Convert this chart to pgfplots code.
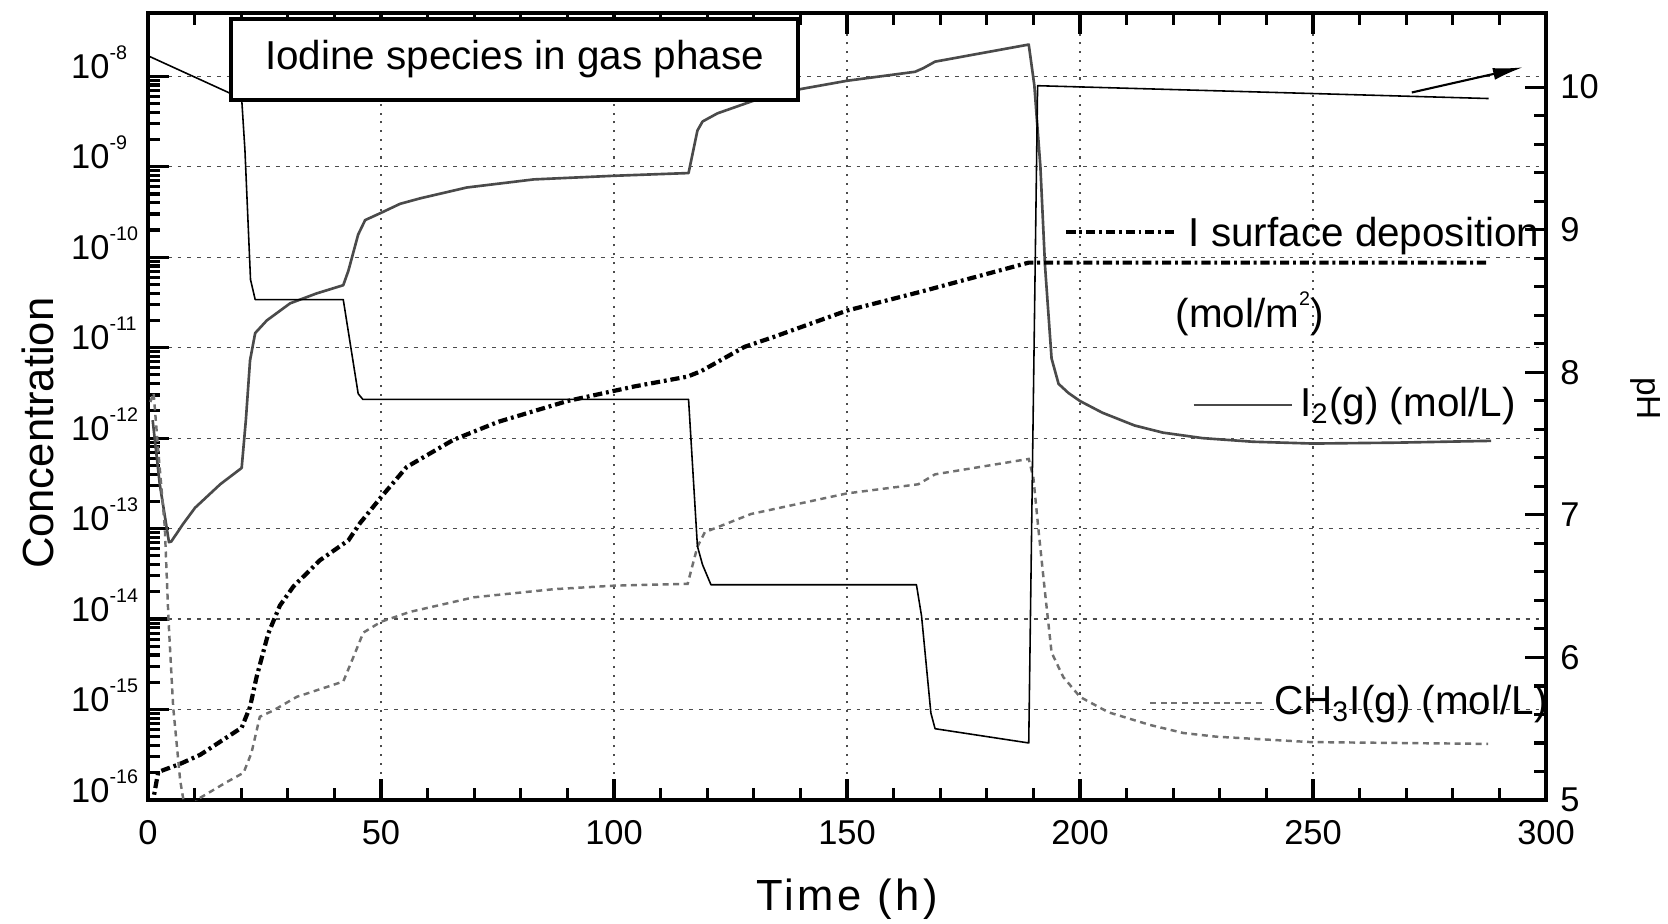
\documentclass[border=0pt]{standalone}
\usepackage{pgfplots}
\pgfplotsset{compat=1.18}
\usepackage{fontspec}
\setmainfont{Liberation Sans}
\newfontfamily\widefont[LetterSpace=8]{Liberation Sans}
\usetikzlibrary{arrows.meta}
\definecolor{igray}{HTML}{4A4A4A}
\definecolor{cgray}{HTML}{707070}
\newcommand\supx[1]{\raisebox{0.55em}{\fontsize{5.6}{6}\selectfont #1}}

\pgfplotsset{
  commonax/.style={
    scale only axis, width=139.8mm, height=78.7mm,
    xmin=0, xmax=300,
    tick align=inside,
    major tick length=2.1mm, minor tick length=1.2mm,
    axis line style={line width=1.1pt},
    tick style={line width=0.9pt, black},
    tick label style={font=\fontsize{9.8}{11}\selectfont},
    /pgf/number format/assume math mode=true,
  },
}
\tikzset{
  depstyle/.style={black, line width=1.2pt, dash pattern=on 2.6pt off 1.1pt on 0.8pt off 1.1pt},
  ch3style/.style={cgray, line width=0.7pt, dash pattern=on 1.7pt off 1.3pt},
  i2style/.style={igray, line width=0.75pt, line join=round},
  annot/.style={inner sep=0pt, font=\fontsize{11.5}{13}\selectfont},
}

\begin{document}
\begin{tikzpicture}
\begin{axis}[commonax,
  ymode=log, ymin=1e-16, ymax=5e-8,
  xtick={0,50,...,300}, minor x tick num=4, xtick pos=both, ytick pos=left,
  ytick={1e-16,1e-15,1e-14,1e-13,1e-12,1e-11,1e-10,1e-9,1e-8},
  yticklabels={10\supx{-16},10\supx{-15},10\supx{-14},10\supx{-13},10\supx{-12},10\supx{-11},10\supx{-10},10\supx{-9},10\supx{-8}},
  yticklabel style={anchor=base west, inner sep=0pt, xshift=-7.75mm, yshift=-0.2mm},
  xticklabel style={yshift=-0.8mm},
  grid=major,
  major x grid style={black!70, line width=0.35pt, dash pattern=on 0.6pt off 1.9pt},
  major y grid style={black!70, line width=0.35pt, dash pattern=on 1.1pt off 1.7pt},
  xlabel={\widefont Time (h)}, ylabel={Concentration},
  label style={font=\fontsize{12.4}{14}\selectfont},
  xlabel style={at={(axis description cs:0.5,-0.126)}, anchor=center},
  ylabel style={at={(axis description cs:-0.079,0.466)}, anchor=center},
]
\coordinate (bl) at (rel axis cs:0,0);
% I2(g)
\addplot[i2style] coordinates {
(1.0,1.58e-12) (2.5,3.16e-13) (4.5,7.08e-14) (5.0,7.2e-14) (7.5,1.12e-13) (10.1,1.70e-13)
(15.5,3.09e-13) (20.1,4.68e-13) (21.0,1.58e-12) (21.9,7.24e-12) (23.0,1.45e-11) (25.5,2.0e-11)
(30.5,3.09e-11) (36.2,3.98e-11) (41.9,4.9e-11) (43.0,7.08e-11) (45.1,1.78e-10) (46.6,2.57e-10)
(50.0,3.09e-10) (54.1,3.89e-10) (58.4,4.47e-10) (68.4,5.89e-10) (82.8,7.24e-10) (100,7.94e-10)
(116.0,8.51e-10) (117.9,2.51e-9) (119.0,3.16e-9) (122.2,3.89e-9) (131.6,5.75e-9) (140.2,7.24e-9)
(150,8.91e-9) (164.6,1.12e-8) (166.4,1.23e-8) (168.9,1.45e-8) (189.0,2.24e-8) (190.2,7.94e-9)
(191.5,1e-9) (192.5,7.94e-11) (193.9,7.59e-12) (195.4,3.98e-12) (197.5,3.16e-12) (200,2.57e-12)
(204.8,1.91e-12) (211.7,1.38e-12) (217.8,1.15e-12) (226.3,1.0e-12) (237.1,9.12e-13) (250,8.71e-13)
(267.8,8.91e-13) (288.2,9.33e-13)
};
% I surface deposition
\addplot[depstyle] coordinates {
(0.9,5e-17) (1.1,1e-16) (2.2,2.04e-16) (6.9,2.51e-16) (11.2,3.16e-16) (20.1,6.31e-16)
(21.9,1.07e-15) (23.3,2.29e-15) (25.8,6.92e-15) (28.3,1.41e-14) (31.2,2.29e-14) (36.9,4.47e-14)
(43.0,7.41e-14) (45.5,1.15e-13) (49.9,2.19e-13) (55.5,4.79e-13) (65.5,9.55e-13) (75.1,1.51e-12)
(90,2.57e-12) (104.3,3.72e-12) (115.8,4.79e-12) (118.7,5.5e-12) (128,1.02e-11) (134.4,1.32e-11)
(150,2.57e-11) (166,4.17e-11) (189,8.71e-11) (287.5,8.71e-11)
};
% CH3I(g)
\addplot[ch3style] coordinates {
(0.5,2.51e-12) (1.2,3.16e-12) (2.3,6.31e-13) (3.6,1.05e-13) (4.4,9.77e-15) (5.4,1.07e-15)
(6.9,1.66e-16) (7.6,1e-16) (9.0,3.98e-17) (10.4,1e-16) (16.9,1.58e-16) (20.5,2.0e-16)
(22.2,3.31e-16) (24.0,8.32e-16) (26.9,9.77e-16) (31.9,1.38e-15) (41.9,2.04e-15) (44.0,3.72e-15)
(46.2,7.08e-15) (50,9.33e-15) (56.2,1.2e-14) (69.9,1.74e-14) (87.1,2.14e-14) (100,2.34e-14)
(115.8,2.45e-14) (117.9,6.31e-14) (119.5,9.12e-14) (129.4,1.45e-13) (150,2.45e-13) (165.3,3.09e-13)
(168.9,3.98e-13) (189,5.89e-13) (190,3.63e-13) (191.1,9.55e-14) (192.5,1.95e-14) (193.9,4.27e-15)
(196.4,2.29e-15) (200,1.38e-15) (206.1,9.33e-16) (215,6.76e-16) (222.2,5.5e-16) (229.3,5.01e-16)
(249.4,4.37e-16) (287.6,4.17e-16)
};
\end{axis}

\begin{axis}[commonax,
  ymin=5, ymax=10.52,
  axis y line*=right, axis x line=none,
  ytick={5,6,7,8,9,10}, minor y tick num=4,
  yticklabel style={xshift=0.2mm},
  ylabel={pH},
  ylabel style={at={(axis description cs:1.071,0.51)}, anchor=center, rotate=180, font=\fontsize{9.5}{11}\selectfont},
  clip=false,
]
\addplot[black, line width=0.45pt, line join=round] coordinates {
(0,10.22) (20.1,9.92) (20.8,9.56) (22.0,8.65) (23.0,8.51) (41.9,8.51) (45.1,7.85) (46.1,7.81)
(116.0,7.81) (117.9,6.78) (119.0,6.65) (120.8,6.51) (164.9,6.51) (166.0,6.29) (168.0,5.61)
(168.9,5.50) (189.0,5.40) (190.9,10.01) (287.7,9.92)
};
% annotations
\node[draw=black, line width=0.9pt, fill=white, minimum width=56.7mm, minimum height=8.1mm, inner sep=0pt,
  font=\fontsize{11.5}{13}\selectfont] at (rel axis cs:0.2622,0.941) {Iodine species in gas phase};
\draw[depstyle] (rel axis cs:0.657,0.722) -- (rel axis cs:0.735,0.722);
\node[annot, anchor=base west] at (rel axis cs:0.744,0.703) {I surface deposition};
\node[annot, anchor=base west] at (rel axis cs:0.7346,0.600) {(mol/m\supx{2})};
\draw[i2style] (rel axis cs:0.748,0.502) -- (rel axis cs:0.818,0.502);
\node[annot, anchor=base west] at (rel axis cs:0.824,0.487) {I\textsubscript{2}(g) (mol/L)};
\draw[ch3style] (rel axis cs:0.717,0.123) -- (rel axis cs:0.798,0.123);
\node[annot, anchor=base west] at (rel axis cs:0.805,0.108) {CH\textsubscript{3}I(g) (mol/L)};
\draw[-{Latex[length=3mm,width=1.2mm]}, line width=0.6pt] (rel axis cs:0.904,0.899) -- (rel axis cs:0.9835,0.931);
\end{axis}
\pgfresetboundingbox
\path[use as bounding box] ([shift={(-14.8mm,-12.4mm)}]bl) rectangle ([shift={(152.0mm,80.0mm)}]bl);
\end{tikzpicture}
\end{document}
